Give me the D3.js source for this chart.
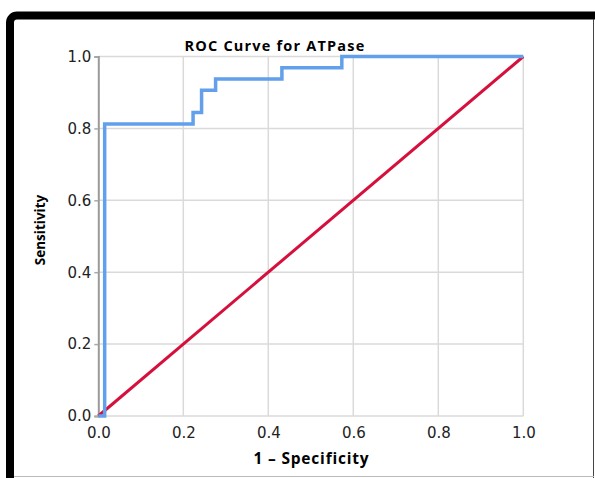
<!DOCTYPE html>
<html>
<head>
<meta charset="utf-8">
<script src="https://cdn.jsdelivr.net/npm/d3@7"></script>
<style>
  body { margin: 0; background: #fff; }
  svg { display: block; }
</style>
</head>
<body>
<div id="roc"></div>
<script>
const fpr = [0, 0.015, 0.223, 0.243, 0.276, 0.432, 0.573, 1];
const tpr = [0, 0.8125, 0.844, 0.906, 0.9375, 0.969, 1, 1];
const refLine = [0, 1];
const ticks = [0, 0.2, 0.4, 0.6, 0.8, 1.0];

const w = 595;
const h = 478;

const svg = d3.select('#roc').append('svg').attr('width', w).attr('height', h);

// frame
svg.append('rect')
  .attr('x', 10).attr('y', 15.5)
  .attr('width', 640).attr('height', 520)
  .attr('rx', 7)
  .attr('fill', '#fff')
  .attr('stroke', '#000')
  .attr('stroke-width', 8);
svg.append('line')
  .attr('x1', 593.5).attr('x2', 593.5).attr('y1', 19).attr('y2', h)
  .attr('stroke', '#444').attr('stroke-width', 1);
svg.append('line')
  .attr('x1', 14).attr('x2', 594).attr('y1', 476.5).attr('y2', 476.5)
  .attr('stroke', '#bbb').attr('stroke-width', 1);

const scaleX = d3.scaleLinear().domain([0, 1]).range([98.3, 523.3]);
const scaleY = d3.scaleLinear().domain([0, 1]).range([416, 56.5]);

// grid
svg.append('g').selectAll('line')
  .data(ticks)
  .enter()
  .append('line')
  .attr('x1', scaleX(0)).attr('x2', scaleX(1))
  .attr('y1', (d) => scaleY(d)).attr('y2', (d) => scaleY(d))
  .attr('stroke', '#dadada').attr('stroke-width', 1.5);
svg.append('g').selectAll('line')
  .data(ticks.slice(1))
  .enter()
  .append('line')
  .attr('x1', (d) => scaleX(d)).attr('x2', (d) => scaleX(d))
  .attr('y1', scaleY(0)).attr('y2', scaleY(1))
  .attr('stroke', '#dadada').attr('stroke-width', 1.5);

const fmt = d3.format('.1f');
const axisX = d3.axisBottom(scaleX).tickValues(ticks).tickFormat(fmt).tickSize(0).tickPadding(11);
const axisY = d3.axisLeft(scaleY).tickValues(ticks).tickFormat(fmt).tickSize(4).tickPadding(3);

const gx = svg.append('g').attr('id', 'x-axis')
  .attr('transform', `translate(0, ${scaleY(0)})`)
  .call(axisX);
gx.select('.domain').remove();

const gy = svg.append('g').attr('id', 'y-axis')
  .attr('transform', `translate(${scaleX(0)}, 0)`)
  .call(axisY);
gy.select('.domain').attr('stroke', '#9a9a9a').attr('stroke-width', 2);
gy.selectAll('.tick line').attr('stroke', '#aaa').attr('stroke-width', 1.5);

svg.selectAll('.tick text')
  .attr('font-family', 'DejaVu Sans')
  .attr('font-size', 15)
  .attr('fill', '#222');

// reference diagonal
svg.append('path')
  .datum(refLine)
  .attr('d', d3.line().x((d) => scaleX(d)).y((d) => scaleY(d)))
  .attr('fill', 'none')
  .attr('stroke', '#d5103c')
  .attr('stroke-width', 3);

// roc curve
const pts = fpr.map((d, i) => [d, tpr[i]]);
svg.append('path')
  .datum(pts)
  .attr('d', d3.line().x((d) => scaleX(d[0])).y((d) => scaleY(d[1])).curve(d3.curveStepAfter))
  .attr('fill', 'none')
  .attr('stroke', '#62a0ec')
  .attr('stroke-width', 3.5);

// titles
svg.append('text')
  .attr('x', 275).attr('y', 51)
  .attr('text-anchor', 'middle')
  .attr('font-family', 'Open Sans')
  .attr('font-weight', 'bold')
  .attr('font-size', 14.5)
  .attr('letter-spacing', 1.2)
  .text('ROC Curve for ATPase');

svg.append('text')
  .attr('x', 311.5).attr('y', 463.5)
  .attr('text-anchor', 'middle')
  .attr('font-family', 'Open Sans')
  .attr('font-weight', 'bold')
  .attr('font-size', 15.5)
  .attr('letter-spacing', 0.8)
  .text('1 – Specificity');

svg.append('text')
  .attr('transform', 'translate(45, 230) rotate(-90)')
  .attr('text-anchor', 'middle')
  .attr('font-family', 'Open Sans')
  .attr('font-weight', 'bold')
  .attr('font-size', 13.5)
  .text('Sensitivity');
</script>
</body>
</html>
